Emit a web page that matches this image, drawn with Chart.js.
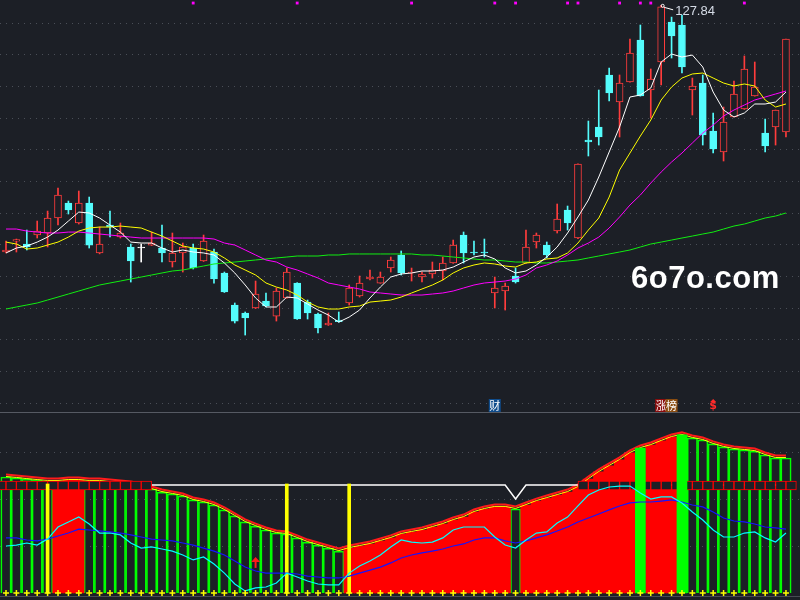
<!DOCTYPE html>
<html>
<head>
<meta charset="utf-8">
<title>K线</title>
<script src="https://cdn.jsdelivr.net/npm/chart.js@4.4.1/dist/chart.umd.min.js"></script>
<style>
body { margin:0; background:#1c1f26; width:800px; height:600px; overflow:hidden; position:relative; }
#top { position:absolute; left:0; top:0; }
#bottom { position:absolute; left:0; top:412px; }
#sep { position:absolute; left:0; top:412px; width:800px; height:1px; background:#565a63; }
#foot { position:absolute; left:0; top:596px; width:800px; height:1px; background:#474b54; }
#logo { position:absolute; left:631px; top:262px; color:#fff; font:bold 31px "Liberation Sans", Arial, sans-serif; line-height:31px; letter-spacing:0.5px; white-space:nowrap; }
</style>
</head>
<body>
<canvas id="top" width="800" height="412"></canvas>
<canvas id="bottom" width="800" height="188"></canvas>
<div id="sep"></div>
<div id="foot"></div>
<div id="logo">6o7o.com</div>
<script>
// ---- candle data ----
var days = [];
for (var d = 0; d < 76; d++) days.push(d);

var openP = [88.89,90.62,90.15,91.57,91.89,94.26,96.63,93.47,96.63,88.73,
  93.15,91.26,89.68,89.52,89.99,89.52,87.31,88.73,89.52,87.47,
  88.89,85.57,80.52,79.26,80.05,81.15,78.78,81.63,83.99,80.99,
  79.10,77.36,78.15,80.84,81.94,84.63,83.99,86.36,88.42,85.57,
  84.94,85.42,85.89,87.15,91.57,88.89,88.89,82.42,82.73,85.10,
  87.15,90.47,89.99,92.21,95.52,91.10,106.57,108.63,116.84,112.57,
  115.73,122.36,114.47,118.89,125.21,124.73,114.47,115.57,107.99,104.68,
  110.21,111.47,113.52,107.68,108.63,107.84];
var highP = [90.62,90.94,92.36,93.78,95.36,98.99,96.94,98.52,97.57,92.84,
  95.36,93.47,90.15,90.15,92.05,93.15,91.89,90.31,90.15,91.57,
  89.36,85.73,80.84,79.42,84.31,82.42,83.21,86.36,84.05,81.31,
  79.26,79.26,79.42,83.68,85.10,86.05,85.73,88.10,89.05,86.36,
  85.73,87.31,88.10,90.78,92.05,90.62,90.94,84.94,83.99,86.36,
  92.36,91.89,90.47,96.47,96.15,102.80,109.57,114.47,117.94,116.84,
  122.52,124.73,117.79,127.84,125.98,126.31,116.36,116.84,110.84,111.78,
  115.89,119.84,118.89,109.89,111.31,122.52];
var lowP = [88.73,88.89,89.21,91.10,89.68,93.15,94.89,93.31,89.52,88.60,
  91.26,91.10,84.15,87.31,89.90,87.31,86.52,85.73,86.21,87.40,
  83.99,82.50,77.68,75.78,79.95,80.21,77.99,81.60,78.25,78.31,
  76.10,77.30,77.80,80.52,81.78,84.47,83.95,85.73,85.26,84.31,
  84.15,84.78,84.47,87.10,87.15,88.42,88.10,80.05,79.73,83.99,
  87.10,89.52,87.94,91.89,92.36,91.00,104.05,105.78,112.73,107.05,
  115.70,113.50,110.05,115.26,119.52,117.15,110.52,105.78,104.52,103.26,
  110.20,111.40,113.50,104.68,105.78,107.05];
var closeP = [89.21,90.85,89.68,92.21,94.26,97.89,95.52,96.63,89.99,90.15,
  92.84,91.89,87.47,89.52,90.31,88.73,88.73,89.68,86.36,90.62,
  84.63,82.57,77.99,78.47,82.26,80.36,82.73,85.73,78.31,79.26,
  76.89,77.68,77.90,83.21,83.99,84.94,84.94,87.63,85.57,85.73,
  85.42,86.05,87.15,89.99,88.73,88.73,88.73,83.21,83.52,84.15,
  89.68,91.57,88.42,94.10,93.47,102.78,106.26,107.05,114.00,115.57,
  120.31,113.52,116.21,127.60,123.00,118.10,115.10,107.36,105.15,109.42,
  113.84,117.79,114.94,105.63,111.31,122.52];

// moving averages
var ma5 = [88.74,89.52,89.84,90.46,91.25,92.36,93.78,95.20,95.05,94.26,
  93.15,92.04,90.46,90.31,90.31,89.52,88.89,89.21,88.89,88.74,
  88.42,87.16,85.58,83.68,81.63,80.21,80.21,81.78,81.63,80.68,
  79.73,78.94,77.83,78.62,79.73,81.63,83.36,84.94,85.42,85.58,
  85.89,85.89,86.05,86.52,87.31,88.10,88.42,87.79,86.37,85.58,
  85.89,86.84,88.10,89.68,91.89,94.42,97.10,100.73,104.68,108.63,
  113.36,113.68,114.78,118.89,120.15,119.68,119.99,118.10,114.15,111.31,
  110.21,110.84,112.26,112.26,112.57,114.15];
var ma10 = [90.46,90.15,89.36,89.52,89.99,90.46,91.25,92.20,92.68,92.83,
  92.83,92.99,92.83,92.68,92.04,91.41,90.62,89.84,89.52,89.36,
  88.89,87.95,86.84,86.05,85.26,84.00,83.36,82.89,82.10,80.99,
  80.21,79.89,79.89,80.21,80.36,80.99,81.15,81.31,81.78,82.42,
  83.05,83.68,84.47,85.58,86.37,86.84,87.16,87.00,86.68,86.52,
  87.16,87.31,87.79,87.95,88.74,90.31,92.36,94.26,97.57,101.84,
  104.52,107.20,109.73,112.89,114.94,116.36,117.00,117.15,116.36,115.57,
  115.10,115.42,115.10,112.89,111.78,112.26];
var ma20 = [92.52,92.52,92.20,92.04,91.89,91.89,92.04,92.04,91.89,91.73,
  91.57,91.41,91.25,91.10,91.10,91.10,91.10,91.10,91.10,91.10,
  90.94,90.31,89.99,89.21,88.42,87.63,87.31,86.52,86.05,85.42,
  84.79,84.00,83.68,83.36,83.05,82.57,82.42,82.26,82.10,82.10,
  82.10,82.26,82.42,82.73,83.21,83.68,84.00,84.15,84.31,84.63,
  85.26,86.37,86.84,87.47,88.42,89.52,90.31,91.25,92.68,94.42,
  96.31,97.89,99.78,101.52,103.10,104.52,106.10,107.68,108.94,110.36,
  111.31,112.10,112.89,113.36,113.84,114.31];
var ma60 = [79.89,80.21,80.52,80.84,81.31,81.78,82.26,82.73,83.21,83.68,
  84.00,84.31,84.63,84.94,85.26,85.58,85.89,86.05,86.37,86.68,
  87.00,87.16,87.31,87.47,87.63,87.79,87.95,88.10,88.26,88.26,
  88.26,88.42,88.42,88.58,88.58,88.58,88.58,88.58,88.58,88.58,
  88.42,88.42,88.26,88.10,87.95,87.79,87.63,87.63,87.47,87.31,
  87.31,87.16,87.16,87.31,87.47,87.63,87.95,88.26,88.58,88.89,
  89.21,89.68,90.15,90.46,90.78,91.10,91.41,91.73,92.04,92.52,
  92.99,93.31,93.78,94.26,94.57,95.05];

var priceGrid = [65,70,75,80,85,90,95,100,105,110,115,120,125];
var flagDays = [18,28,39,47,49,54,55,59,61,62,71];   // magenta dots on top
var flagLevel = 128.2;
var tagDays = [47, 63, 64];
var tagText = ['财', '涨', '榜'];
var dollarDay = 68;

// ---- lower indicator panel ----
var barTop = [61.7,61.2,60.6,60.1,59.6,59.6,60.1,60.1,59.6,59.6,
  59.0,58.5,58.0,56.9,55.3,53.7,52.7,51.6,49.5,48.4,
  46.8,44.2,41.0,37.8,35.6,33.5,31.9,31.4,29.3,27.1,
  25.5,23.9,22.3,23.9,25.0,26.1,27.7,29.3,31.4,32.5,
  33.5,35.1,36.7,38.8,40.4,43.1,44.7,45.8,45.8,44.7,
  46.8,48.9,50.5,52.1,53.7,56.4,60.6,64.4,67.6,70.8,
  74.5,77.1,78.7,80.9,83.0,84.1,82.5,81.4,79.3,77.7,
  76.6,76.1,75.5,73.4,71.8,71.8];
// h = hollow green, r = red, g = solid green
var barKind = ('hhhhh' + 'rrr' + 'hhhhhhhhhhhhhhhhhhhhhhhhh' + 'rrrrrrrrrrrrrrrr' + 'h' +
  'rrrrrrrrrrr' + 'g' + 'rrr' + 'g' + 'hhhhhhhhhh').split('');
var cyanLine = [25.0,25.5,26.6,25.5,28.7,35.1,37.8,40.4,36.7,31.9,
  31.9,30.9,26.6,23.9,24.5,23.4,22.3,20.2,17.6,19.2,
  15.4,10.6,4.8,1.1,2.7,3.2,5.3,10.6,8.5,6.4,
  4.8,4.3,4.3,10.6,14.4,17.0,20.2,24.5,28.2,27.1,
  26.6,27.1,29.3,33.5,35.1,35.1,35.1,29.8,25.5,23.9,
  28.2,31.9,32.5,37.2,40.4,46.3,52.1,54.8,56.4,56.9,
  56.9,53.2,50.0,51.1,51.1,47.9,43.1,38.8,33.5,29.8,
  29.8,31.9,32.5,29.3,27.1,31.9];
var blueLine = [29.3,29.3,28.2,27.7,28.7,30.3,31.9,34.0,33.5,33.0,
  32.5,31.9,30.9,29.8,28.7,28.2,27.7,26.6,25.5,23.9,
  22.3,20.2,17.0,13.8,11.7,10.6,10.6,10.6,10.1,9.0,
  8.5,8.0,8.0,9.0,10.6,12.2,13.8,16.0,18.6,20.2,
  21.3,22.3,23.4,25.0,26.1,28.2,29.3,29.3,27.7,26.6,
  27.7,29.3,30.9,33.0,35.1,37.8,39.9,42.0,44.2,46.3,
  47.9,48.4,48.4,48.9,49.5,48.4,46.8,45.8,43.1,39.9,
  38.3,37.8,36.7,35.1,34.6,34.0];
var whiteLine = [null,null,null,null,null,null,null,null,null,null,
  null,null,null,null,57.4,57.4,57.4,57.4,57.4,57.4,
  57.4,57.4,57.4,57.4,57.4,57.4,57.4,57.4,57.4,57.4,
  57.4,57.4,57.4,57.4,57.4,57.4,57.4,57.4,57.4,57.4,
  57.4,57.4,57.4,57.4,57.4,57.4,57.4,57.4,57.4,50.0,
  57.4,57.4,57.4,57.4,57.4,57.4,57.4,57.4,57.4,57.4,
  57.4,57.4,57.4,57.4,57.4,57.4,57.4,57.4,57.4,57.4,
  57.4,57.4,57.4,57.4,57.4,57.4];
var stickDays = [4, 27, 33];
var stickTop = 58.0;
var boxLeft = [-0.5,0.5,1.5,2.5,3.5,4.5,5.5,6.5,7.5,8.5,9.5,10.5,11.5,12.5,13.5];
var boxRight = [55.5,56.5,57.5,58.5,59.5,60.5,61.5,62.5,63.5,64.5,65.5,
  66.5,67.5,68.5,69.5,70.5,71.5,72.5,73.5,74.5,75.5];
var boxLow = 54.8, boxHigh = 59.6;
var arrowDays = [24];
var arrowLevel = [16.0];
var lowerGrid = [25, 50, 75];

var BG = '#1c1f26';
var RED = '#ff3c3c', CYAN = '#54fcfc';

function candleColor(i) {
  if (closeP[i] > openP[i]) return RED;
  if (closeP[i] < openP[i]) return CYAN;
  return '#ffffff';
}
function pts(vals) {
  return vals.map(function (v, i) { return {x: i, y: v}; });
}
function xAxis() {
  return { type: 'linear', min: -0.577, max: 76.35, display: false, offset: false };
}
function yAxis(min, max, ticks) {
  return {
    type: 'linear', min: min, max: max,
    afterBuildTicks: function (scale) { scale.ticks = ticks.map(function (v) { return {value: v}; }); },
    ticks: { display: false },
    grid: { color: '#4a4e57', drawTicks: false, lineWidth: 1 },
    border: { display: false, dash: [1, 5] }
  };
}
function lineSet(vals, col, w, order) {
  return { type: 'line', data: pts(vals), borderColor: col, borderWidth: w, pointRadius: 0, tension: 0, spanGaps: false, order: order };
}

// lets a dataset be drawn a few pixels up (the red/yellow lines over the bars)
var shiftPlugin = {
  id: 'shift',
  beforeDatasetDraw: function (chart, args) {
    var s = chart.data.datasets[args.index].shiftY;
    if (s) { chart.ctx.save(); chart.ctx.translate(0, s); }
  },
  afterDatasetDraw: function (chart, args) {
    if (chart.data.datasets[args.index].shiftY) chart.ctx.restore();
  }
};

var topLabels = {
  id: 'topLabels',
  afterDatasetsDraw: function (chart) {
    var ctx = chart.ctx, xs = chart.scales.x, ys = chart.scales.y;
    // highest price note
    var hi = 0;
    for (var i = 1; i < highP.length; i++) if (highP[i] > highP[hi]) hi = i;
    var px = xs.getPixelForValue(hi), py = ys.getPixelForValue(highP[hi]);
    ctx.save();
    ctx.strokeStyle = '#ffffff';
    ctx.lineWidth = 1;
    ctx.beginPath();
    ctx.arc(px + 1.5, py + 0.5, 1.5, 0, Math.PI * 2);
    ctx.moveTo(px + 3, py + 2);
    ctx.lineTo(px + 12, py + 4.5);
    ctx.stroke();
    ctx.fillStyle = '#d5dbe6';
    ctx.font = '13px "Liberation Sans", Arial, sans-serif';
    ctx.textBaseline = 'middle';
    ctx.textAlign = 'left';
    ctx.fillText(highP[hi].toFixed(2), px + 14, py + 6.5);

    // little tags at the bottom of the price panel
    var bgs = ['#0f4c8c', '#8a0d0d', '#8a4c10'];
    ctx.font = '11px "Noto Sans CJK SC", sans-serif';
    ctx.textAlign = 'center';
    for (var t = 0; t < tagDays.length; t++) {
      var tx = xs.getPixelForValue(tagDays[t]);
      ctx.fillStyle = bgs[t];
      ctx.fillRect(tx - 6, 399, 12, 13);
      ctx.fillStyle = '#ffffff';
      ctx.fillText(tagText[t], tx, 405.5);
    }
    var dx = xs.getPixelForValue(dollarDay);
    ctx.fillStyle = '#ff2a2a';
    ctx.beginPath();
    ctx.moveTo(dx - 3, 402); ctx.lineTo(dx + 3, 402); ctx.lineTo(dx, 399);
    ctx.fill();
    ctx.font = 'bold 11px "DejaVu Sans", sans-serif';
    ctx.fillText('$', dx, 406.5);
    ctx.restore();
  }
};

var arrowPlugin = {
  id: 'arrows',
  afterDatasetsDraw: function (chart) {
    var ctx = chart.ctx, xs = chart.scales.x, ys = chart.scales.y;
    ctx.save();
    ctx.fillStyle = '#ff1a1a';
    for (var i = 0; i < arrowDays.length; i++) {
      var ax = xs.getPixelForValue(arrowDays[i]), ay = ys.getPixelForValue(arrowLevel[i]);
      ctx.beginPath();
      ctx.moveTo(ax, ay - 6); ctx.lineTo(ax + 4.5, ay - 1); ctx.lineTo(ax - 4.5, ay - 1);
      ctx.closePath();
      ctx.fill();
      ctx.fillRect(ax - 1, ay - 1, 2, 6);
    }
    ctx.restore();
  }
};

var common = {
  responsive: false, animation: false, devicePixelRatio: 1,
  layout: { padding: 0, autoPadding: false },
  plugins: { legend: { display: false }, tooltip: { enabled: false } }
};

// ---------- price panel ----------
new Chart(document.getElementById('top'), {
  type: 'line',
  data: { datasets: [
    { type: 'scatter', data: flagDays.map(function (i) { return {x: i, y: flagLevel}; }),
      pointStyle: 'rect', pointRadius: 2, backgroundColor: '#ff00ff', borderColor: '#ff00ff', borderWidth: 0, order: 0 },
    lineSet(ma5, '#ffffff', 1, 1),
    lineSet(ma10, '#ffff00', 1, 2),
    lineSet(ma20, '#ff00ff', 1, 3),
    lineSet(ma60, '#11ee11', 1, 4),
    { type: 'bar', data: days.map(function (i) { return {x: i, y: [openP[i], closeP[i]]}; }),
      backgroundColor: days.map(function (i) { return closeP[i] > openP[i] ? BG : candleColor(i); }),
      borderColor: days.map(candleColor), borderWidth: 1, borderSkipped: false,
      barThickness: 7, minBarLength: 1, grouped: false, order: 5 },
    { type: 'bar', data: days.map(function (i) { return {x: i, y: [lowP[i], highP[i]]}; }),
      backgroundColor: days.map(candleColor), borderWidth: 0,
      barThickness: 1, grouped: false, order: 6 }
  ]},
  options: Object.assign({}, common, {
    scales: { x: xAxis(), y: yAxis(63.63, 128.68, priceGrid) }
  }),
  plugins: [topLabels]
});

// ---------- indicator panel ----------
function barsOf(kind) {
  var out = [];
  days.forEach(function (i) { if (barKind[i] === kind) out.push({x: i, y: barTop[i]}); });
  return out;
}
function boxes(list) {
  return list.map(function (b) { return {x: b, y: [boxLow, boxHigh]}; });
}

new Chart(document.getElementById('bottom'), {
  type: 'line',
  data: { datasets: [
    { type: 'scatter', data: days.map(function (i) { return {x: i, y: 0}; }),
      pointStyle: 'cross', pointRadius: 3, borderColor: '#ffff00', borderWidth: 1.5, order: 0 },
    lineSet(cyanLine, '#00ffff', 1.2, 1),
    lineSet(blueLine, '#1414ff', 1.2, 2),
    { type: 'bar', data: stickDays.map(function (i) { return {x: i, y: stickTop}; }),
      backgroundColor: '#ffff00', barThickness: 3, grouped: false, order: 3 },
    { type: 'bar', data: barsOf('g'), backgroundColor: '#00ff00', borderWidth: 0,
      barThickness: 10, grouped: false, order: 4 },
    { type: 'bar', data: boxes(boxLeft).concat(boxes(boxRight)), backgroundColor: BG,
      borderColor: '#ff0000', borderWidth: 1, borderSkipped: false,
      barThickness: 10.4, grouped: false, order: 5 },
    lineSet(whiteLine, '#ffffff', 1.5, 6),
    Object.assign(lineSet(barTop, '#ff1a1a', 2, 7), { shiftY: -2.5 }),
    Object.assign(lineSet(barTop, '#ffff00', 1, 8), { shiftY: -0.5 }),
    { type: 'bar', data: barsOf('r'), backgroundColor: '#ff0000', borderWidth: 0,
      barThickness: 10.6, grouped: false, order: 9 },
    { type: 'bar', data: barsOf('h'), backgroundColor: 'rgba(0,0,0,0)',
      borderColor: '#00ff00', borderWidth: 1, barThickness: 10.4, grouped: false, order: 10 }
  ]},
  options: Object.assign({}, common, {
    scales: { x: xAxis(), y: yAxis(-3.72, 96.28, lowerGrid) }
  }),
  plugins: [shiftPlugin, arrowPlugin]
});
</script>
</body>
</html>
